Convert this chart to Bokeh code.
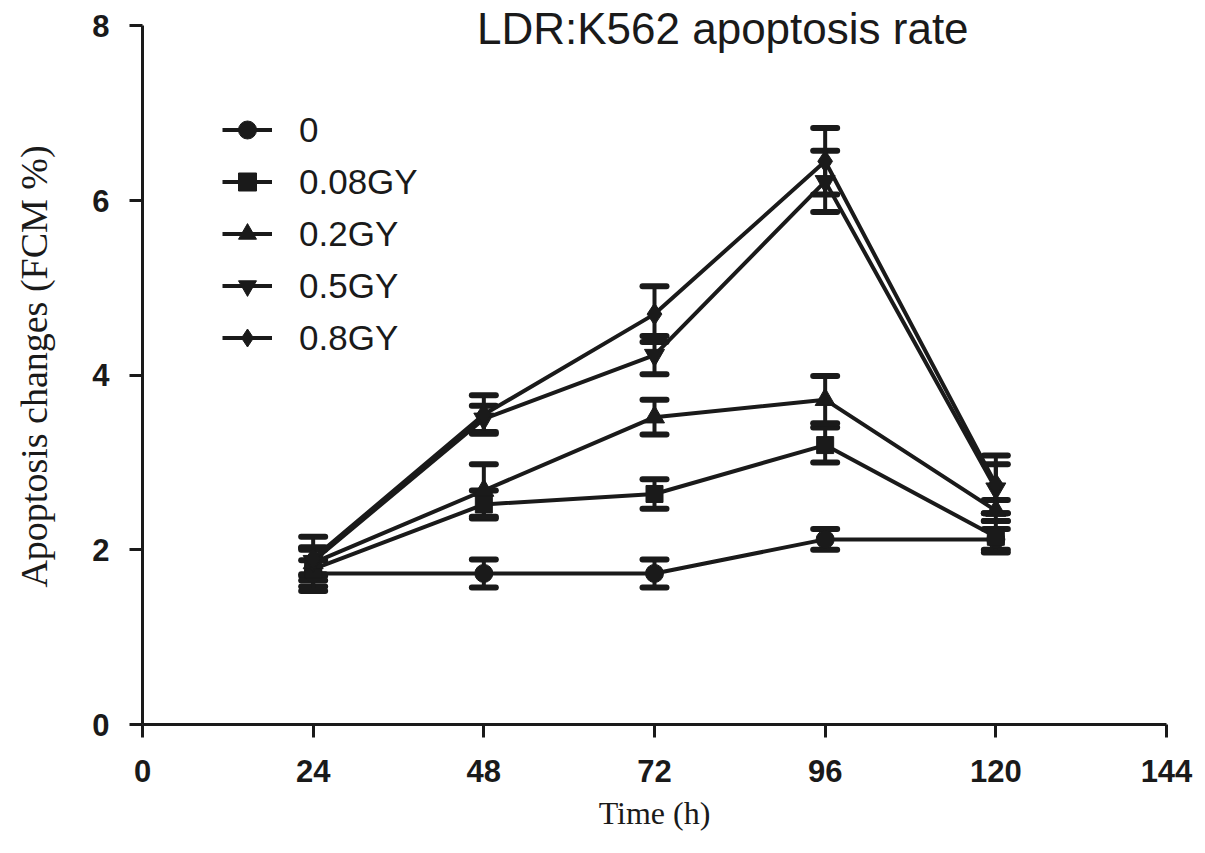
from bokeh.plotting import figure
from bokeh.models import ColumnDataSource, Whisker, TeeHead, Label, FixedTicker
from bokeh.embed import file_html
from bokeh.resources import INLINE

# time points (h)
time_h = [24, 48, 72, 96, 120]

# apoptosis rate (FCM %) per dose, with error bars
dose_0 = [1.73, 1.73, 1.73, 2.12, 2.12]
err_0 = [0.15, 0.16, 0.16, 0.12, 0.12]
dose_008 = [1.78, 2.52, 2.64, 3.20, 2.15]
err_008 = [0.25, 0.16, 0.17, 0.20, 0.18]
dose_02 = [1.85, 2.68, 3.52, 3.72, 2.45]
err_02 = [0.15, 0.30, 0.20, 0.27, 0.12]
dose_05 = [1.87, 3.50, 4.23, 6.22, 2.70]
err_05 = [0.15, 0.15, 0.22, 0.35, 0.28]
dose_08 = [1.90, 3.55, 4.70, 6.45, 2.75]
err_08 = [0.25, 0.22, 0.32, 0.38, 0.33]

labels = ["0", "0.08GY", "0.2GY", "0.5GY", "0.8GY"]
markers = ["circle", "square", "triangle", "inverted_triangle", "diamond"]
marker_sizes = [18, 17, 20, 20, 22]

x_ticks = [0, 24, 48, 72, 96, 120, 144]
y_ticks = [0, 2, 4, 6, 8]

INK = "#1a1a1a"

# y range goes a bit past 8 so the title fits inside the frame; the axis line stops at 8
p = figure(width=1205, height=853, x_range=(0, 144), y_range=(0, 8.2),
           output_backend="svg", toolbar_location=None,
           min_border_left=142, min_border_right=39,
           min_border_top=8, min_border_bottom=129,
           x_axis_label="Time (h)", y_axis_label="Apoptosis changes (FCM %)")
p.grid.visible = False
p.outline_line_color = None

for ax in (p.xaxis[0], p.yaxis[0]):
    ax.axis_line_width = 3
    ax.axis_line_color = INK
    ax.major_tick_line_width = 3
    ax.major_tick_line_color = INK
    ax.major_tick_out = 13
    ax.major_tick_in = 0
    ax.minor_tick_line_color = None
    ax.major_label_text_font = "'Liberation Sans Narrow', 'Liberation Sans'"
    ax.major_label_text_font_style = "bold"
    ax.major_label_text_font_size = "31px"
    ax.major_label_text_color = INK
    ax.axis_label_text_font = "Liberation Serif"
    ax.axis_label_text_font_style = "normal"
    ax.axis_label_text_color = INK

p.yaxis.bounds = (0, 8)
p.xaxis.ticker = FixedTicker(ticks=x_ticks)
p.yaxis.ticker = FixedTicker(ticks=y_ticks)
p.xaxis.major_label_standoff = 22
p.yaxis.major_label_standoff = 20
p.xaxis.axis_label_text_font_size = "32px"
p.yaxis.axis_label_text_font_size = "38px"
p.xaxis.axis_label_standoff = 10
p.yaxis.axis_label_standoff = 34

series = [(dose_0, err_0), (dose_008, err_008), (dose_02, err_02),
          (dose_05, err_05), (dose_08, err_08)]

for (vals, errs), lab, mk, ms in zip(series, labels, markers, marker_sizes):
    src = ColumnDataSource(data=dict(
        x=time_h, y=vals,
        lower=[v - e for v, e in zip(vals, errs)],
        upper=[v + e for v, e in zip(vals, errs)]))
    p.add_layout(Whisker(source=src, base="x", lower="lower", upper="upper",
                         line_color=INK, line_width=4,
                         upper_head=TeeHead(size=24, line_width=6, line_color=INK, line_cap="round"),
                         lower_head=TeeHead(size=24, line_width=6, line_color=INK, line_cap="round")))
    p.line("x", "y", source=src, line_color=INK, line_width=4, legend_label=lab)
    p.scatter("x", "y", source=src, marker=mk, size=ms, fill_color=INK,
              line_color=INK, legend_label=lab)

p.legend.location = (80, 364)
p.legend.margin = 0
p.legend.padding = 0
p.legend.border_line_color = None
p.legend.background_fill_alpha = 0
p.legend.glyph_width = 50
p.legend.glyph_height = 45
p.legend.label_height = 45
p.legend.spacing = 7
p.legend.label_standoff = 27
p.legend.label_text_font = "Liberation Sans"
p.legend.label_text_font_size = "35px"
p.legend.label_text_color = INK

p.add_layout(Label(x=81.6, y=7.97, text="LDR:K562 apoptosis rate",
                   text_font="Liberation Sans", text_font_size="44px",
                   text_color=INK, text_align="center", text_baseline="middle"))

open("out.html", "w").write(file_html(p, INLINE))
